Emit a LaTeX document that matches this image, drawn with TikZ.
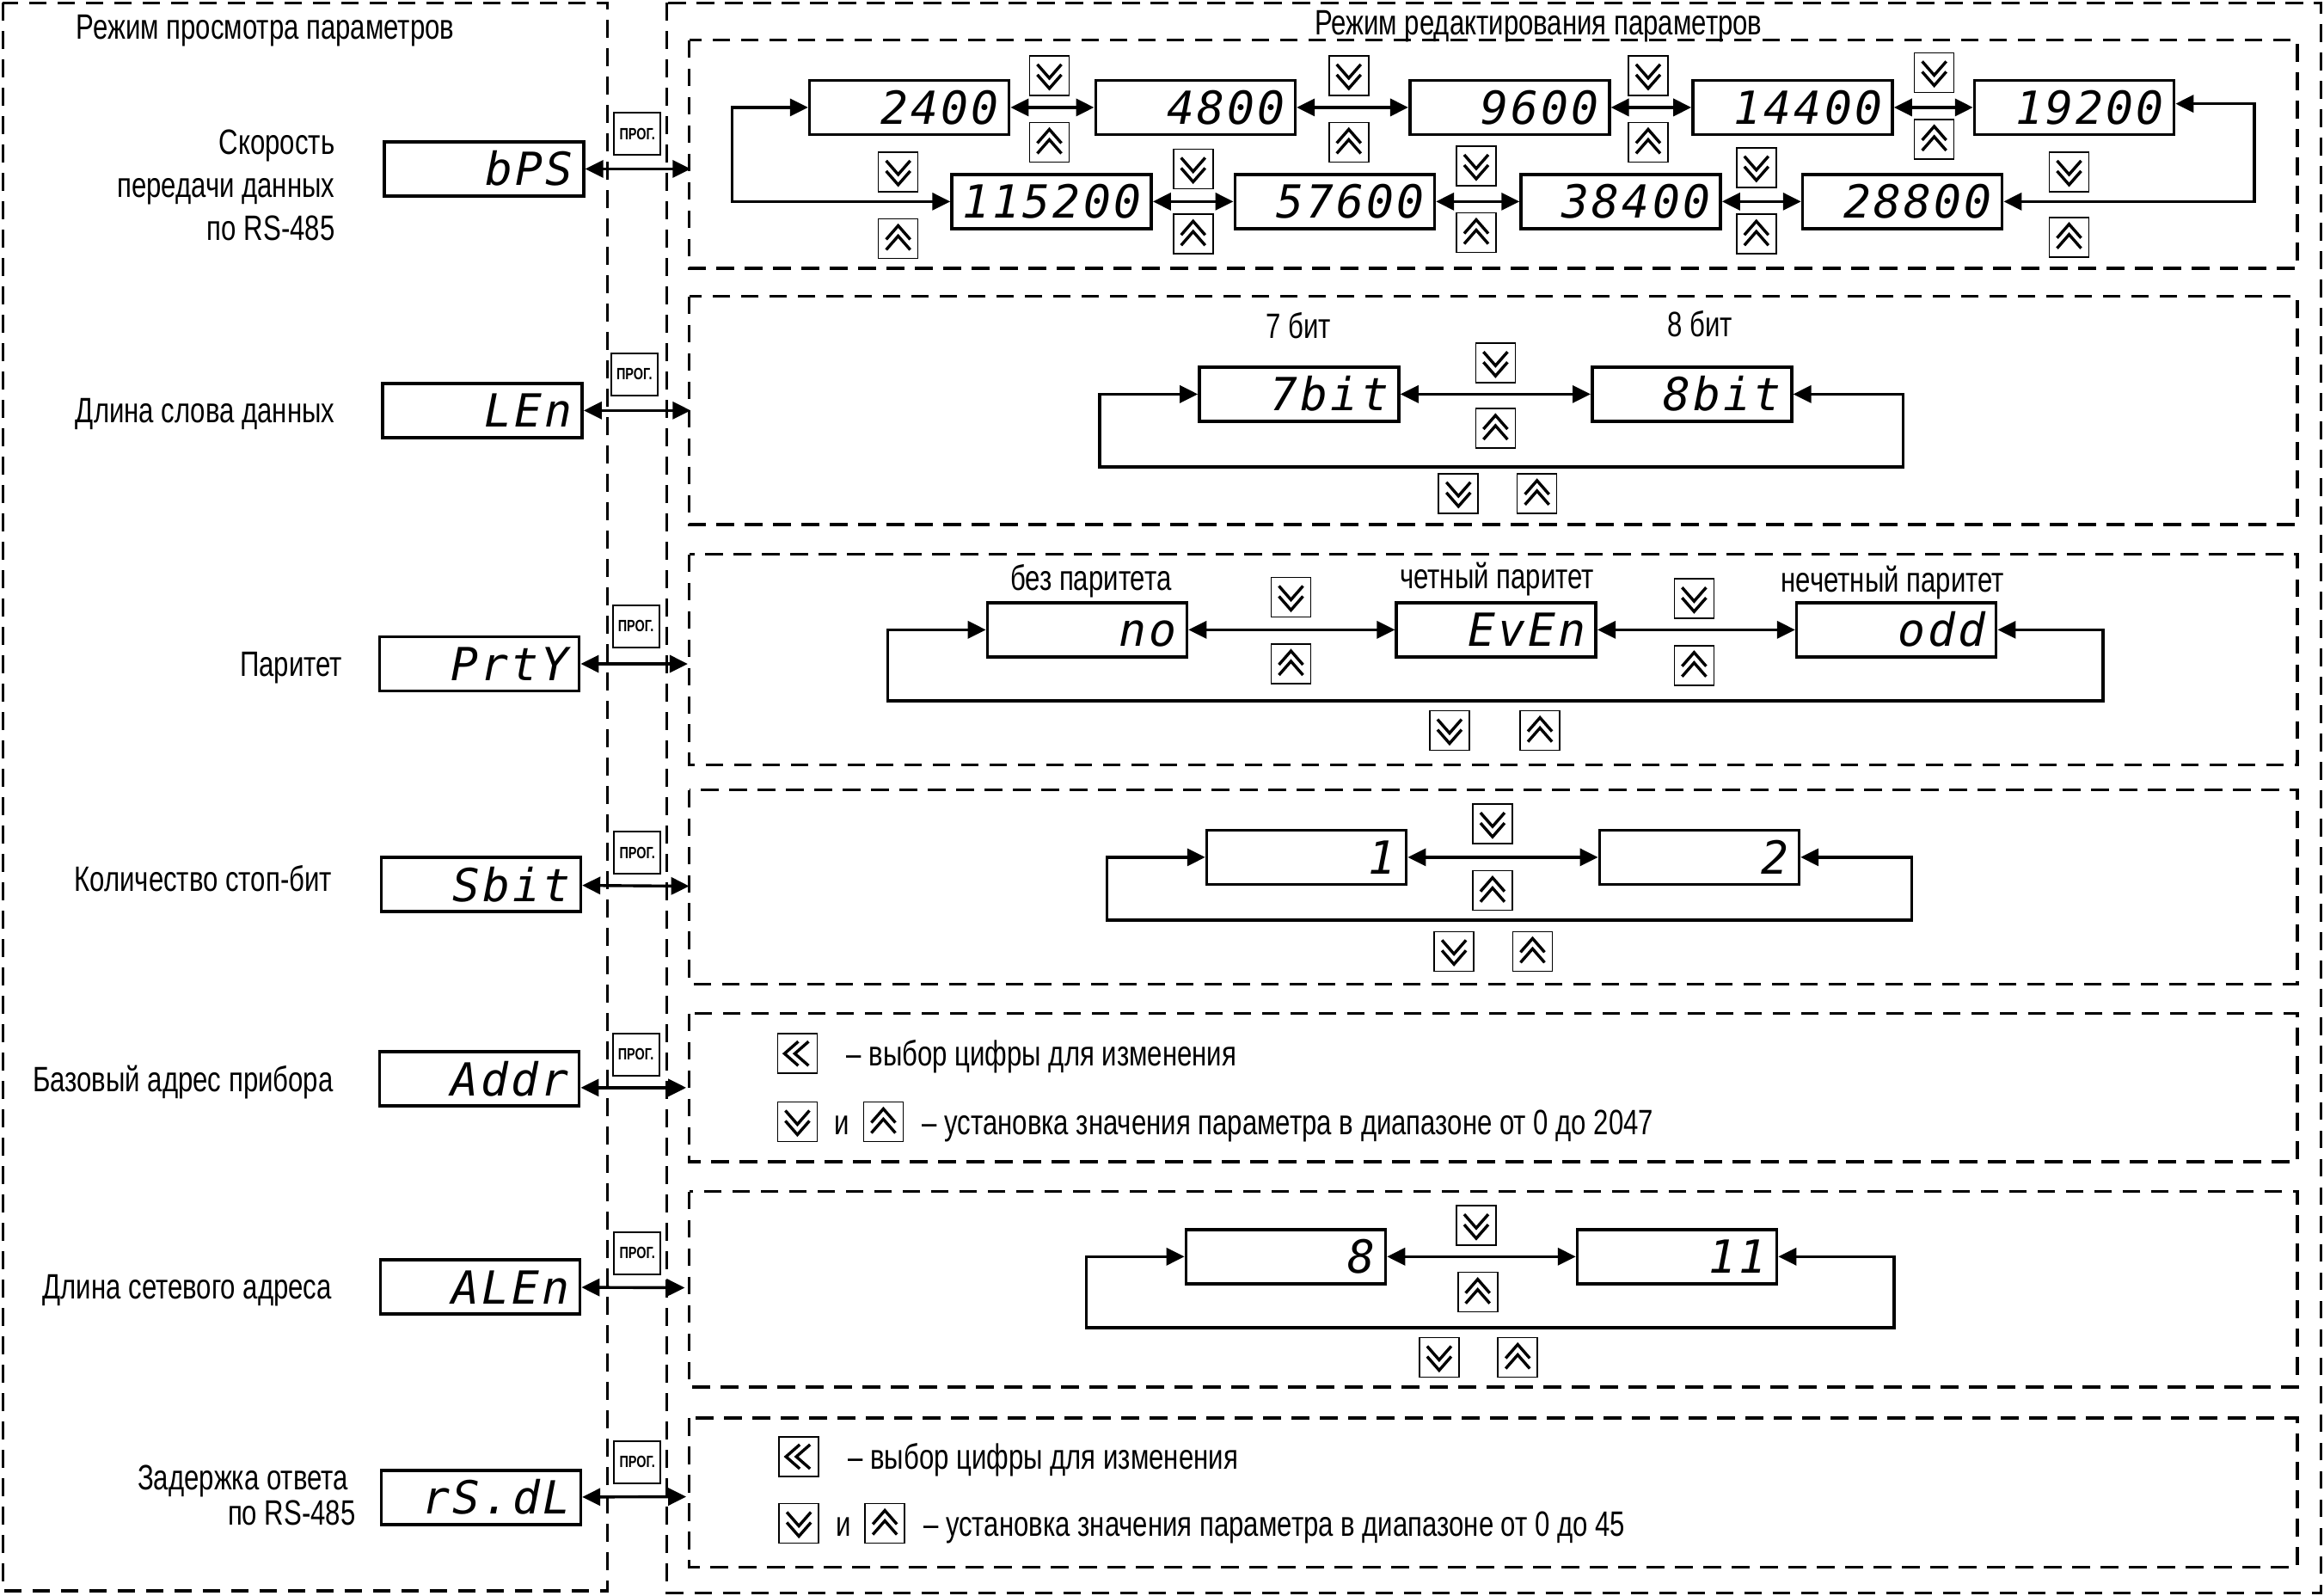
\documentclass[tikz,border=0pt]{standalone}
\usepackage{fontspec}
\usetikzlibrary{arrows.meta}
\setmainfont[FakeStretch=0.76]{Liberation Sans}
\newfontfamily\segfont[LetterSpace=6]{DejaVu Sans Mono Oblique}
\tikzset{
  dashframe/.style={draw,line width=3.4pt,dash pattern=on 20.5pt off 12.5pt},
  display/.style={draw,line width=3.6pt,fill=white,minimum width=232pt,minimum height=63pt,inner xsep=12pt,inner ysep=0pt,
    text width=208pt,align=right,text height=39pt,text depth=0pt,font=\segfont\fontsize{53}{56}\selectfont},
  link/.style={line width=3.4pt,{Triangle[length=21pt,width=20pt]}-{Triangle[length=21pt,width=20pt]}},
  btnbox/.style={draw,line width=1.6pt,fill=white,minimum size=46pt,inner sep=0pt},
  chev/.style={line width=3.4pt,miter limit=10},
  proglbl/.style={draw,line width=2pt,fill=white,minimum width=54pt,minimum height=49pt,inner sep=0pt,font=\bfseries\fontsize{19}{21}\selectfont},
  lbl/.style={inner sep=0pt,text height=29pt,text depth=0pt,font=\fontsize{41}{46}\selectfont},
}
\newcommand\dispbox[4]{\node[display] (#1) at (#2,#3) {#4};}
\newcommand\chevbtn[4]{\node[btnbox] (#1) at (#3,#4) {};
  \draw[chev,shift={(#1)},rotate=#2] (-14pt,13pt)--(0pt,-3pt)--(14pt,13pt) (-14pt,1pt)--(0pt,-15pt)--(14pt,1pt);}
\newcommand\btnpair[5]{\chevbtn{#1dn}{0}{#2}{#3}\chevbtn{#1up}{180}{#4}{#5}}
\newcommand\progbtn[3]{\node[proglbl] (#1) at (#2,#3) {ПРОГ.};}
\begin{document}
\begin{tikzpicture}[x=1.7239pt,y=-1.7233pt]
\useasboundingbox (0,0) rectangle (1568,1077);
% frames
\draw[dashframe] (2,2) rectangle (410,1073.5);
\draw[dashframe] (450,2) rectangle (1566,1075);
\draw[dashframe] (465,27) rectangle (1550,181);
\draw[dashframe] (465,200) rectangle (1550,354);
\draw[dashframe] (465,374) rectangle (1550,516);
\draw[dashframe] (465,533) rectangle (1550,664);
\draw[dashframe] (465,684) rectangle (1550,784);
\draw[dashframe] (465,804) rectangle (1550,936);
\draw[dashframe] (465,957) rectangle (1550,1057.5);
% headings
\node[lbl] (hl) at (179,18) {Режим просмотра параметров};
\node[lbl] (hr) at (1038,15) {Режим редактирования параметров};
% left column
\node[lbl,anchor=east] (a1) at (226,96) {Скорость};
\node[lbl,anchor=east] (a2) at (226,125) {передачи данных};
\node[lbl,anchor=east] (a3) at (226,154) {по RS-485};
\node[lbl,anchor=east] (b1) at (226,277) {Длина слова данных};
\node[lbl,anchor=east] (c1) at (231,448) {Паритет};
\node[lbl,anchor=east] (e1) at (224,593) {Количество стоп-бит};
\node[lbl,anchor=east] (f1) at (225,728) {Базовый адрес прибора};
\node[lbl,anchor=east] (g1) at (224,868) {Длина сетевого адреса};
\node[lbl,anchor=east] (h1) at (235,997) {Задержка ответа};
\node[lbl,anchor=east] (h2) at (240,1021) {по RS-485};
\dispbox{bps}{326.5}{114}{bPS}
\dispbox{len}{325.5}{277}{LEn}
\dispbox{prty}{323.5}{448}{PrtY}
\dispbox{sbit}{324.5}{597}{Sbit}
\dispbox{addr}{323.5}{728}{Addr}
\dispbox{alen}{324}{868.5}{ALEn}
\dispbox{rsdl}{324.5}{1010.5}{rS.dL}
\coordinate (pa) at (466,114);
\coordinate (pb) at (466,277);
\coordinate (pc) at (464,448);
\coordinate (pd) at (465,598);
\coordinate (pe) at (463,734);
\coordinate (pf) at (462,869);
\coordinate (pg) at (463,1010);
\draw[link] (bps) -- (pa);
\draw[link] (len) -- (pb);
\draw[link] (prty) -- (pc);
\draw[link] (sbit) -- (pd);
\draw[link] (addr.east |- pe) -- (pe);
\draw[link] (alen) -- (pf);
\draw[link] (rsdl) -- (pg);
\progbtn{pga}{430}{90.5}
\progbtn{pgb}{428}{252.5}
\progbtn{pgc}{429}{422.5}
\progbtn{pgd}{430}{575.5}
\progbtn{pge}{429}{711.5}
\progbtn{pgf}{430}{845.5}
\progbtn{pgg}{430}{986.5}
% baud rates
\dispbox{r2400}{613.5}{72.5}{2400}
\dispbox{r4800}{806.5}{72.5}{4800}
\dispbox{r9600}{1018.5}{72.5}{9600}
\dispbox{r14400}{1209.5}{72.5}{14400}
\dispbox{r19200}{1399.5}{72.5}{19200}
\dispbox{r115200}{709.5}{136}{115200}
\dispbox{r57600}{900.5}{136}{57600}
\dispbox{r38400}{1093.5}{136}{38400}
\dispbox{r28800}{1283.5}{136}{28800}
\draw[link] (r2400) -- (r4800);
\draw[link] (r4800) -- (r9600);
\draw[link] (r9600) -- (r14400);
\draw[link] (r14400) -- (r19200);
\draw[link] (r115200) -- (r57600);
\draw[link] (r57600) -- (r38400);
\draw[link] (r38400) -- (r28800);
\coordinate (la) at (494,72.5);
\coordinate (lb) at (494,136);
\coordinate (lc) at (1521,136);
\coordinate (ld) at (1521,70);
\draw[link] (r2400) -- (la) -- (lb) -- (r115200);
\draw[link] (r28800) -- (lc) -- (ld) -- (r19200.east |- ld);
\btnpair{s1}{708}{51}{708}{96}
\btnpair{s2}{910}{51}{910}{96}
\btnpair{s3}{1112}{51}{1112}{96}
\btnpair{s4}{1305}{49}{1305}{94}
\btnpair{s5}{606}{116}{606}{161}
\btnpair{s6}{805}{114}{805}{158}
\btnpair{s7}{996}{112}{996}{157}
\btnpair{s8}{1185}{113}{1185}{158}
\btnpair{s9}{1396}{116}{1396}{160}
% word length
\node[lbl] (t7) at (876,220) {7 бит};
\node[lbl] (t8) at (1147,219) {8 бит};
\dispbox{w7}{876.5}{266}{7bit}
\dispbox{w8}{1141.5}{266}{8bit}
\draw[link] (w7) -- (w8);
\coordinate (wa) at (742,315);
\coordinate (wb) at (1284,315);
\draw[link] (w7.west) -| (wa) -- (wb) |- (w8.east);
\btnpair{w1}{1009}{245}{1009}{289}
\btnpair{w2}{984}{333}{1037}{333}
% parity
\node[lbl] (tn) at (736,390) {без паритета};
\node[lbl] (te) at (1010,389) {четный паритет};
\node[lbl] (to) at (1277,391) {нечетный паритет};
\dispbox{pno}{733.5}{425}{no}
\dispbox{pev}{1009.5}{425}{EvEn}
\dispbox{pod}{1279.5}{425}{odd}
\draw[link] (pno) -- (pev);
\draw[link] (pev) -- (pod);
\coordinate (qa) at (599,473);
\coordinate (qb) at (1419,473);
\draw[link] (pno.west) -| (qa) -- (qb) |- (pod.east);
\btnpair{q1}{871}{403}{871}{448}
\btnpair{q2}{1143}{404}{1143}{449}
\btnpair{q3}{978}{493}{1039}{493}
% stop bits
\dispbox{b1}{881.5}{578.5}{1}
\dispbox{b2}{1146.5}{578.5}{2}
\draw[link] (b1) -- (b2);
\coordinate (ra) at (747,621);
\coordinate (rb) at (1290,621);
\draw[link] (b1.west) -| (ra) -- (rb) |- (b2.east);
\btnpair{r1}{1007}{556}{1007}{601}
\btnpair{r2}{981}{642}{1034}{642}
% base address
\chevbtn{ul}{-90}{538}{711}
\node[lbl,anchor=west] (u1) at (571,711) {– выбор цифры для изменения};
\btnpair{u2}{538}{757}{596}{757}
\node[lbl] (u3) at (568,757) {и};
\node[lbl,anchor=west] (u4) at (622,757) {– установка значения параметра в диапазоне от 0 до 2047};
% address length
\dispbox{n8}{867.5}{848}{8}
\dispbox{n11}{1131.5}{848}{11}
\draw[link] (n8) -- (n11);
\coordinate (na) at (733,896);
\coordinate (nb) at (1278,896);
\draw[link] (n8.west) -| (na) -- (nb) |- (n11.east);
\btnpair{n1}{996}{827}{997}{872}
\btnpair{n2}{971}{916}{1024}{916}
% delay
\chevbtn{vl}{-90}{539}{983}
\node[lbl,anchor=west] (v1) at (572,983) {– выбор цифры для изменения};
\btnpair{v2}{539}{1028}{597}{1028}
\node[lbl] (v3) at (569,1028) {и};
\node[lbl,anchor=west] (v4) at (623,1028) {– установка значения параметра в диапазоне от 0 до 45};
\end{tikzpicture}
\end{document}
